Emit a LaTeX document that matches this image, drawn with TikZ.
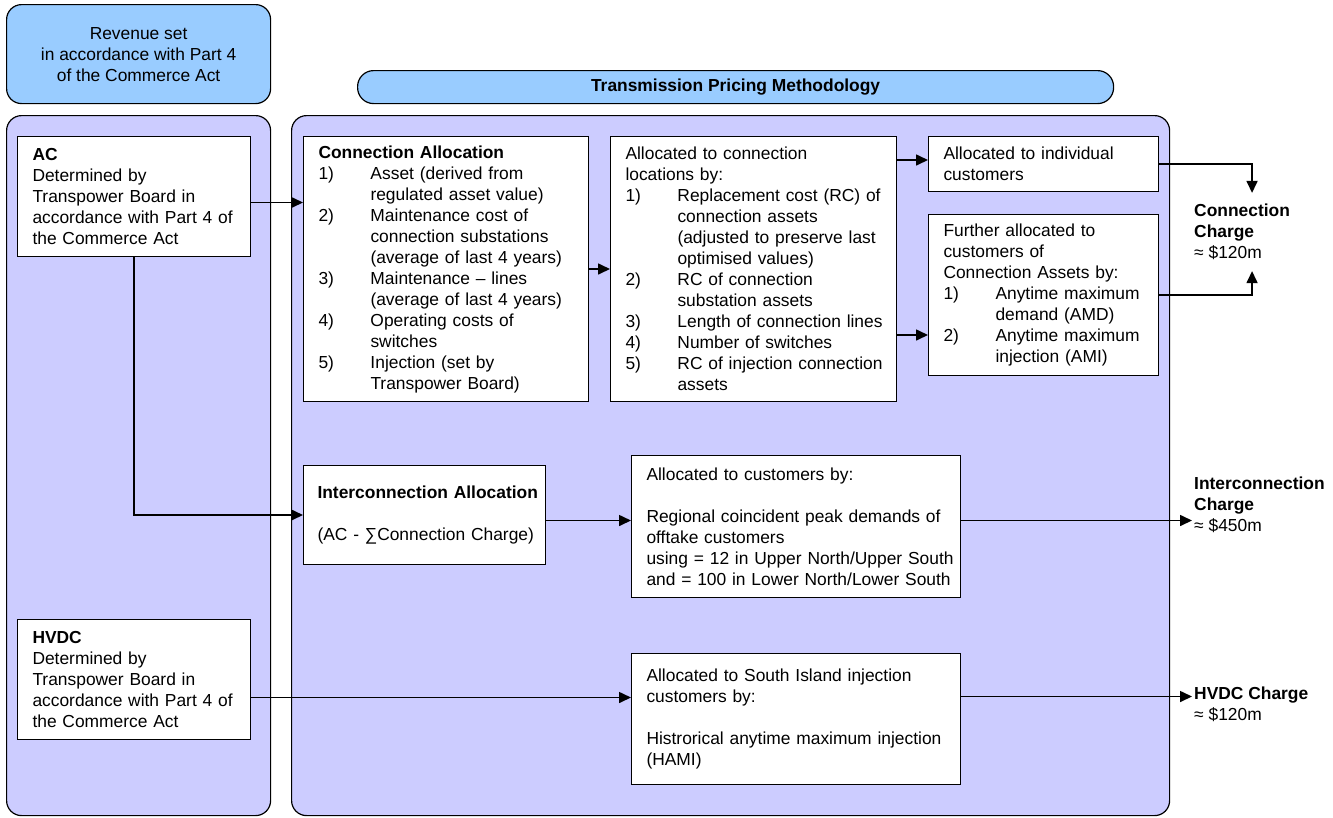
\documentclass[tikz,border=0pt]{standalone}
\usepackage{fontspec}
\setmainfont{Liberation Sans}
\usetikzlibrary{arrows.meta, positioning}
\definecolor{hdrblue}{HTML}{99CCFF}
\definecolor{panelblue}{HTML}{CCCCFF}
\newcommand{\itm}[1]{\makebox[52pt][l]{#1}}
\newcommand{\ind}{\hspace*{52pt}}

\begin{document}
\begin{tikzpicture}[
  x=1pt, y=-1pt,
  font=\fontsize{17.4}{21}\selectfont,
  hdr/.style={draw=black, fill=hdrblue, line width=1.2pt, rounded corners=15pt,
              anchor=north west, align=center},
  panel/.style={draw=black, fill=panelblue, line width=1.2pt, rounded corners=15pt,
                anchor=north west, inner sep=0pt},
  box/.style={draw=black, fill=white, line width=1pt, anchor=north west,
              align=left, inner xsep=15pt, inner ysep=0pt},
  chg/.style={anchor=west, align=left, inner xsep=2pt, inner ysep=11pt},
  arr/.style={-{Triangle[length=12pt,width=11pt]}, line width=1.6pt},
]
\useasboundingbox (0,0) rectangle (1333,817);

% headers and panels
\node[hdr, minimum width=264pt, minimum height=99pt] (revenue) at (6,4)
  {Revenue set\\in accordance with Part 4\\of the Commerce Act};
\node[hdr, rounded corners=16pt, minimum width=756pt, minimum height=33pt,
      font=\fontsize{17.4}{21}\selectfont\bfseries] (tpm) at (357,70)
  {Transmission Pricing Methodology};
\node[panel, minimum width=264pt, minimum height=700pt] (lpanel) at (6,115) {};
\node[panel, minimum width=878pt, minimum height=700pt] (rpanel) at (291,115) {};

% revenue sources
\node[box, text width=203pt, minimum height=120pt] (ac) at (17,136)
  {\textbf{AC}\\Determined by\\Transpower Board in\\\mbox{accordance with Part 4 of}\\the Commerce Act};
\node[box, text width=203pt, minimum height=120pt] (hvdc) at (17,619)
  {\textbf{HVDC}\\Determined by\\Transpower Board in\\\mbox{accordance with Part 4 of}\\the Commerce Act};

% connection
\node[box, text width=255pt, minimum height=265pt] (conn) at (303,136)
  {\textbf{Connection Allocation}\\
   \itm{1)}Asset (derived from\\
   \ind regulated asset value)\\
   \itm{2)}Maintenance cost of\\
   \ind connection substations\\
   \ind (average of last 4 years)\\
   \itm{3)}Maintenance – lines\\
   \ind (average of last 4 years)\\
   \itm{4)}Operating costs of\\
   \ind switches\\
   \itm{5)}Injection (set by\\
   \ind Transpower Board)};
\node[box, inner xsep=15pt, text width=256pt, minimum height=265pt,
      right=21pt of conn.north east, anchor=north west] (loc)
  {Allocated to connection\\
   locations by:\\
   \itm{1)}\mbox{Replacement cost (RC) of}\\
   \ind \mbox{connection assets}\\
   \ind \mbox{(adjusted to preserve last}\\
   \ind optimised values)\\
   \itm{2)}RC of connection\\
   \ind substation assets\\
   \itm{3)}\mbox{Length of connection lines}\\
   \itm{4)}Number of switches\\
   \itm{5)}\mbox{RC of injection connection}\\
   \ind assets};
\node[box, text width=200pt, minimum height=55pt] (indiv) at (928,136)
  {Allocated to individual\\customers};
\node[box, text width=200pt, minimum height=161pt,
      below=22pt of indiv.south west, anchor=north west] (further)
  {Further allocated to\\
   customers of\\
   Connection Assets by:\\
   \itm{1)}\mbox{Anytime maximum}\\
   \ind demand (AMD)\\
   \itm{2)}\mbox{Anytime maximum}\\
   \ind injection (AMI)};
\node[chg] (connchg) at (1192,232)
  {\textbf{Connection}\\\textbf{Charge}\\≈ \$120m};

% interconnection
\node[box, inner xsep=14pt, text width=214pt, minimum height=99pt] (inter) at (303,465)
  {\mbox{\textbf{Interconnection Allocation}}\\[21pt]\mbox{(AC - ∑Connection Charge)}};
\node[box, inner xsep=15pt, text width=299pt, minimum height=142pt] (intalloc) at (631,455)
  {Allocated to customers by:\\[21pt]
   \mbox{Regional coincident peak demands of}\\
   offtake customers\\
   \mbox{using = 12 in Upper North/Upper South}\\
   \mbox{and = 100 in Lower North/Lower South}};
\node[chg] (intchg) at (1192,505)
  {\textbf{Interconnection}\\\textbf{Charge}\\≈ \$450m};

% hvdc
\node[box, inner xsep=15pt, text width=299pt, minimum height=131pt] (hvdcalloc) at (631,653)
  {Allocated to South Island injection\\
   customers by:\\[21pt]
   \mbox{Histrorical anytime maximum injection}\\
   (HAMI)};
\node[chg] (hvdcchg) at (1192,704)
  {\textbf{HVDC Charge}\\≈ \$120m};

% connectors
\coordinate (acout) at ([yshift=-6pt]ac.east);
\coordinate (locup) at ([yshift=4pt]indiv.west);
\coordinate (locdn) at ([yshift=-40pt]further.west);
\coordinate (intout) at ([yshift=-5.5pt]inter.east);
\coordinate (intchgin) at ([yshift=6pt]intalloc.east);
\coordinate (hvdcout) at ([yshift=-18pt]hvdc.east);
\coordinate (hvdcchgin) at ([yshift=22.5pt]hvdcalloc.east);

\draw[arr] (acout) -- (acout -| conn.west);
\draw[arr] (ac.south) |- (inter.west);
\draw[arr] (conn.east) -- (loc.west);
\draw[arr] (locup -| loc.east) -- (locup);
\draw[arr] (locdn -| loc.east) -- (locdn);
\draw[arr] (indiv.east) -| ([xshift=10pt]connchg.north);
\draw[arr] (further.east) -| ([xshift=10pt]connchg.south);
\draw[arr] (intout) -- (intout -| intalloc.west);
\draw[arr] (intchgin) -- (intchgin -| intchg.west);
\draw[arr] (hvdcout) -- (hvdcout -| hvdcalloc.west);
\draw[arr] (hvdcchgin) -- (hvdcchgin -| hvdcchg.west);
\end{tikzpicture}
\end{document}
